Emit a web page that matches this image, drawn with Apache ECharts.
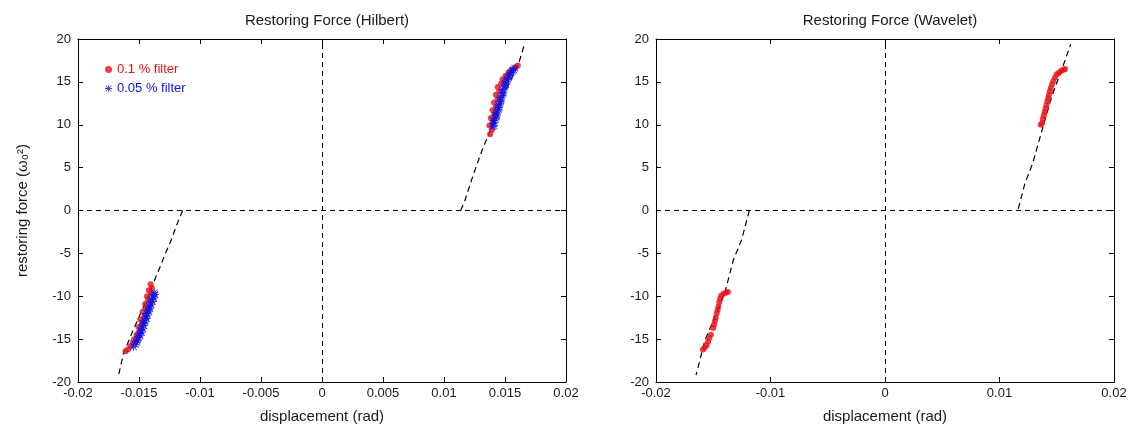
<!DOCTYPE html>
<html>
<head>
<meta charset="utf-8">
<script src="https://cdn.jsdelivr.net/npm/echarts@6/dist/echarts.min.js"></script>
<style>
html,body{margin:0;padding:0;background:#fff;}
#c{width:1132px;height:434px;}
</style>
</head>
<body>
<div id="c"></div>
<script>
// ---------- data ----------
const titles = ['Restoring Force (Hilbert)', 'Restoring Force (Wavelet)'];
const xLabelName = 'displacement (rad)';
const yLabelName = 'restoring force (ω₀²)';
const legendNames = ['0.1 % filter', '0.05 % filter'];

// fitted restoring-force curve (black dashed), Hilbert panel
const hilbertCurveNeg = [[-0.01142,0],[-0.01186,-1.5],[-0.01235,-3.4],[-0.01284,-5.0],[-0.01322,-6.4],[-0.01355,-7.5],[-0.01437,-10.4],[-0.01546,-13.9],[-0.01628,-16.7],[-0.01670,-19.4]];
const hilbertCurvePos = [[0.01137,0],[0.01172,1.2],[0.01227,3.6],[0.01268,5.3],[0.01322,7.4],[0.01377,9.2],[0.01500,13.9],[0.01609,17.0],[0.01664,19.6]];
// fitted curve, Wavelet panel
const waveletCurveNeg = [[-0.01185,0],[-0.01252,-3.4],[-0.01325,-5.8],[-0.01397,-9.5],[-0.01485,-12.4],[-0.01572,-15.1],[-0.01650,-19.2]];
const waveletCurvePos = [[0.01164,0.2],[0.01223,3.2],[0.01290,5.5],[0.01368,9.2],[0.01456,13.3],[0.01543,16.4],[0.01622,19.4]];

// 0.1 % filter points (red), Hilbert
const hilbertRed = [
 [0.01378,8.9],[0.01392,9.4],[0.01372,9.9],[0.01400,10.3],[0.01385,10.8],[0.01412,11.2],[0.01398,11.7],[0.01425,12.1],[0.01410,12.6],[0.01440,13.0],[0.01425,13.5],[0.01452,13.9],[0.01440,14.4],[0.01468,14.8],[0.01480,15.3],[0.01505,15.7],[0.01530,16.1],[0.01555,16.4],[0.01585,16.7],[0.01605,16.9],
 [-0.01405,-8.6],[-0.01395,-9.0],[-0.01420,-9.3],[-0.01400,-9.6],[-0.01435,-10.0],[-0.01425,-10.5],[-0.01450,-10.9],[-0.01440,-11.4],[-0.01470,-11.8],[-0.01455,-12.3],[-0.01490,-12.7],[-0.01475,-13.2],[-0.01505,-13.6],[-0.01490,-14.1],[-0.01520,-14.5],[-0.01540,-15.0],[-0.01550,-15.4],[-0.01570,-15.8],[-0.01590,-16.2],[-0.01610,-16.4]
];
// 0.05 % filter points (blue), Hilbert
const hilbertBlue = [
 [0.01400,9.8],[0.01410,9.9],[0.01412,10.2],[0.01405,10.5],[0.01420,10.7],[0.01428,10.9],[0.01432,11.1],[0.01425,11.4],[0.01438,11.6],[0.01446,11.8],[0.01450,12.0],[0.01445,12.3],[0.01458,12.5],[0.01464,12.7],[0.01468,12.9],[0.01462,13.2],[0.01475,13.4],[0.01482,13.6],[0.01486,13.8],[0.01480,14.1],[0.01494,14.3],[0.01500,14.5],[0.01505,14.7],[0.01502,14.9],[0.01515,15.1],[0.01520,15.3],[0.01528,15.5],[0.01535,15.7],[0.01542,15.9],[0.01550,16.1],[0.01560,16.3],[0.01570,16.4],[0.01580,16.6],
 [-0.01375,-9.6],[-0.01370,-9.8],[-0.01385,-10.0],[-0.01380,-10.2],[-0.01395,-10.4],[-0.01390,-10.6],[-0.01408,-10.8],[-0.01402,-11.0],[-0.01415,-11.2],[-0.01412,-11.4],[-0.01425,-11.6],[-0.01420,-11.8],[-0.01437,-12.0],[-0.01432,-12.2],[-0.01445,-12.4],[-0.01440,-12.6],[-0.01455,-12.8],[-0.01450,-13.0],[-0.01467,-13.2],[-0.01462,-13.4],[-0.01475,-13.6],[-0.01470,-13.8],[-0.01485,-14.0],[-0.01480,-14.2],[-0.01497,-14.4],[-0.01492,-14.6],[-0.01505,-14.8],[-0.01510,-15.0],[-0.01515,-15.2],[-0.01522,-15.4],[-0.01530,-15.6],[-0.01545,-15.9]
];
// 0.1 % filter points (red), Wavelet
const waveletRed = [
 [0.01360,10.0],[0.01372,10.2],[0.01378,10.7],[0.01388,11.1],[0.01395,11.5],[0.01402,11.9],[0.01410,12.3],[0.01418,12.7],[0.01425,13.1],[0.01432,13.5],[0.01440,13.9],[0.01448,14.3],[0.01458,14.7],[0.01470,15.1],[0.01485,15.5],[0.01500,15.9],[0.01520,16.1],[0.01540,16.3],[0.01560,16.4],[0.01572,16.5],
 [-0.01372,-9.5],[-0.01390,-9.6],[-0.01410,-9.7],[-0.01430,-9.9],[-0.01440,-10.3],[-0.01448,-10.7],[-0.01455,-11.2],[-0.01462,-11.6],[-0.01470,-12.0],[-0.01478,-12.5],[-0.01485,-12.9],[-0.01492,-13.3],[-0.01500,-13.7],[-0.01520,-14.5],[-0.01535,-14.9],[-0.01545,-15.3],[-0.01558,-15.7],[-0.01575,-16.0],[-0.01590,-16.2]
];

// axis ticks
const xMin = -0.02, xMax = 0.02;
const xIntervals = [0.005, 0.01];
const yMin = -20, yMax = 20, yInterval = 5;

// ---------- chart ----------
const FONT = 'Liberation Sans, Arial, sans-serif';
const TXT = '#1a1a1a';
const RED = '#ec1016';
const BLUE = '#1010e0';
const chart = echarts.init(document.getElementById('c'), null, {renderer:'canvas'});

const grids = [
  {left:78, right:566, top:39, bottom:52},
  {left:656, right:18, top:39, bottom:52}
];
const centers = [322, 885];

const fmt = v => String(+v.toFixed(4));

const xAxes = [], yAxes = [];
grids.forEach((g, i) => {
  const common = {gridIndex:i, type:'value', min:xMin, max:xMax, interval:xIntervals[i],
    splitLine:{show:false},
    axisLine:{show:true, onZero:false, lineStyle:{color:'#000', width:1}},
    axisTick:{show:true, inside:true, length:5, lineStyle:{color:'#000'}}};
  xAxes.push(Object.assign({}, common, {position:'bottom',
    name:xLabelName, nameLocation:'middle', nameGap:27,
    nameTextStyle:{fontFamily:FONT, fontSize:15, color:TXT},
    axisLabel:{fontFamily:FONT, fontSize:13, color:TXT, margin:5, formatter:fmt}}));
  xAxes.push(Object.assign({}, common, {position:'top', axisLabel:{show:false}}));
  const ycommon = {gridIndex:i, type:'value', min:yMin, max:yMax, interval:yInterval,
    splitLine:{show:false},
    axisLine:{show:true, onZero:false, lineStyle:{color:'#000', width:1}},
    axisTick:{show:true, inside:true, length:5, lineStyle:{color:'#000'}}};
  yAxes.push(Object.assign({}, ycommon, {position:'left',
    name: i === 0 ? yLabelName : '', nameLocation:'middle', nameGap:48,
    nameTextStyle:{fontFamily:FONT, fontSize:15, color:TXT},
    axisLabel:{fontFamily:FONT, fontSize:13, color:TXT, margin:7}}));
  yAxes.push(Object.assign({}, ycommon, {position:'right', axisLabel:{show:false}}));
});

const zeroLines = {
  silent:true, symbol:'none', animation:false,
  label:{show:false},
  lineStyle:{color:'#000', width:1, type:[5,4]},
  data:[{xAxis:0},{yAxis:0}]
};

function curve(data, gi, withZero) {
  const s = {type:'line', xAxisIndex:gi*2, yAxisIndex:gi*2, data:data, showSymbol:false,
    symbol:'none', lineStyle:{color:'#000', width:1.2, type:[6,4]}, z:3, silent:true, animation:false};
  if (withZero) s.markLine = zeroLines;
  return s;
}

const asterisk = 'path://M4.4,0h1.2v10h-1.2z M0,4.4h10v1.2h-10z M1.2,0.4l8.4,8.4l-0.8,0.8l-8.4,-8.4z M8.8,0.4l0.8,0.8l-8.4,8.4l-0.8,-0.8z';

const series = [
  curve(hilbertCurveNeg, 0, true),
  curve(hilbertCurvePos, 0, false),
  curve(waveletCurveNeg, 1, true),
  curve(waveletCurvePos, 1, false),
  {name:legendNames[0], type:'scatter', xAxisIndex:0, yAxisIndex:0, data:hilbertRed,
    symbol:'circle', symbolSize:6, itemStyle:{color:RED}, z:4, animation:false},
  {name:legendNames[1], type:'scatter', xAxisIndex:0, yAxisIndex:0, data:hilbertBlue,
    symbol:asterisk, symbolSize:8, itemStyle:{color:BLUE}, z:5, animation:false},
  {name:legendNames[0], type:'scatter', xAxisIndex:2, yAxisIndex:2, data:waveletRed,
    symbol:'circle', symbolSize:6, itemStyle:{color:RED}, z:4, animation:false}
];

chart.setOption({
  backgroundColor:'#fff',
  animation:false,
  title: titles.map((t, i) => ({text:t, left:centers[i], top:8, textAlign:'center',
    textStyle:{fontFamily:FONT, fontSize:15, fontWeight:'normal', color:TXT}})),
  legend:{
    orient:'vertical', left:100, top:58, itemGap:6, itemWidth:7, itemHeight:7,
    selectedMode:false,
    textStyle:{fontFamily:FONT, fontSize:13},
    data:[
      {name:legendNames[0], icon:'circle', textStyle:{color:RED}},
      {name:legendNames[1], icon:asterisk, textStyle:{color:BLUE}}
    ]
  },
  grid: grids,
  xAxis: xAxes,
  yAxis: yAxes,
  series: series
});
</script>
</body>
</html>
